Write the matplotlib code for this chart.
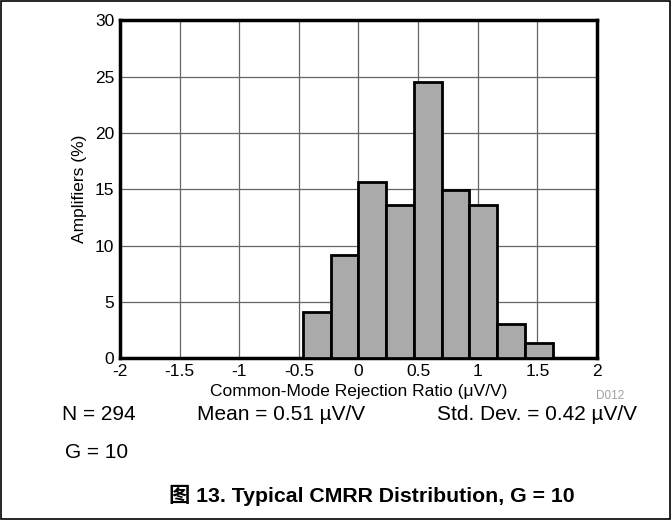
import matplotlib
matplotlib.use('Agg')
import matplotlib.pyplot as plt
from matplotlib.patches import Rectangle

# histogram data (294 amplifiers)
bin_edges = [-0.465, -0.2325, 0.0, 0.2325, 0.465, 0.6975, 0.93, 1.1625, 1.395, 1.6275]
percent = [4.08, 9.18, 15.65, 13.6, 24.49, 14.97, 13.6, 3.06, 1.36]
x_ticks = [-2, -1.5, -1, -0.5, 0, 0.5, 1, 1.5, 2]
x_tick_labels = ['-2', '-1.5', '-1', '-0.5', '0', '0.5', '1', '1.5', '2']
y_ticks = [0, 5, 10, 15, 20, 25, 30]

plt.rcParams['font.family'] = ['Liberation Sans', 'Noto Sans CJK SC', 'DejaVu Sans']

fig = plt.figure(figsize=(6.71, 5.20), dpi=100)
ax = fig.add_axes([0.1788, 0.3115, 0.7109, 0.6491])

widths = [b - a for a, b in zip(bin_edges[:-1], bin_edges[1:])]
ax.bar(bin_edges[:-1], percent, width=widths, align='edge',
       color='#aaaaaa', edgecolor='black', linewidth=2, zorder=3)

ax.set_xlim(-2, 2)
ax.set_ylim(0, 30)
ax.set_xticks(x_ticks)
ax.set_xticklabels(x_tick_labels)
ax.set_yticks(y_ticks)
ax.tick_params(length=0, labelsize=12.5, pad=4)
ax.grid(True, color='#666666', linewidth=0.9, zorder=0)
ax.set_axisbelow(True)
for s in ax.spines.values():
    s.set_linewidth(2.5)

ax.set_xlabel('Common-Mode Rejection Ratio (\u03bcV/V)', fontsize=12.5, labelpad=4)
ax.set_ylabel('Amplifiers (%)', fontsize=12.5, labelpad=6)

fig.text(610 / 671, 1 - 396 / 520, 'D012', fontsize=8.5, color='#a0a0a0',
         ha='center', va='center')

fig.text(62 / 671, 1 - 415 / 520, 'N = 294', fontsize=15, ha='left', va='center')
fig.text(197 / 671, 1 - 415 / 520, 'Mean = 0.51 \u00b5V/V', fontsize=15, ha='left', va='center')
fig.text(437 / 671, 1 - 415 / 520, 'Std. Dev. = 0.42 \u00b5V/V', fontsize=15, ha='left', va='center')
fig.text(65 / 671, 1 - 452 / 520, 'G = 10', fontsize=15, ha='left', va='center')

fig.text(372 / 671, 1 - 495 / 520, '图 13. Typical CMRR Distribution, G = 10',
         fontsize=15.3, fontweight='bold', ha='center', va='center')

# frame around whole figure
fig.patches.append(Rectangle((0.001, 0.001), 0.997, 0.997, transform=fig.transFigure,
                             fill=False, edgecolor='black', linewidth=1.2))

fig.savefig('out.png', dpi=100)
